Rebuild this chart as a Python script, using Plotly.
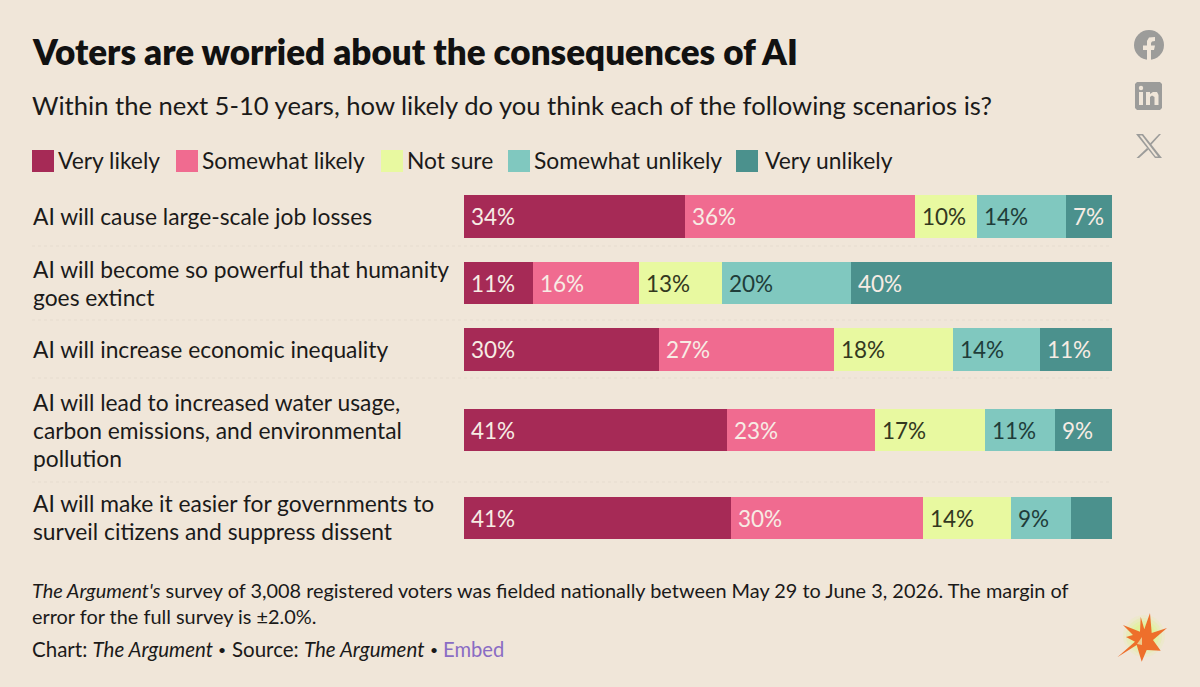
import plotly.graph_objects as go

W, H = 1200, 687
BG = "#f0e6d9"
INK = "#1b1a19"
FONT = "Lato"

categories = [
    "AI will cause large-scale job losses",
    "AI will become so powerful that humanity<br>goes extinct",
    "AI will increase economic inequality",
    "AI will lead to increased water usage,<br>carbon emissions, and environmental<br>pollution",
    "AI will make it easier for governments to<br>surveil citizens and suppress dissent",
]
series_names = ["Very likely", "Somewhat likely", "Not sure", "Somewhat unlikely", "Very unlikely"]
very_likely = [34.1, 10.6, 30.1, 40.6, 41.2]
somewhat_likely = [35.5, 16.4, 27.0, 22.8, 29.6]
not_sure = [9.6, 12.8, 18.4, 17.0, 13.6]
somewhat_unlikely = [13.7, 19.9, 13.4, 10.8, 9.3]
very_unlikely = [7.1, 40.3, 11.1, 8.8, 6.3]
label_very_likely = ["34%", "11%", "30%", "41%", "41%"]
label_somewhat_likely = ["36%", "16%", "27%", "23%", "30%"]
label_not_sure = ["10%", "13%", "18%", "17%", "14%"]
label_somewhat_unlikely = ["14%", "20%", "14%", "11%", "9%"]
label_very_unlikely = ["7%", "40%", "11%", "9%", ""]

all_values = [very_likely, somewhat_likely, not_sure, somewhat_unlikely, very_unlikely]
all_labels = [label_very_likely, label_somewhat_likely, label_not_sure, label_somewhat_unlikely, label_very_unlikely]
colors = ["#a62a56", "#f06b90", "#e8f9a0", "#80c8bf", "#4b918d"]
text_colors = ["#f7ece4", "#f7ece4", "#33381f", "#1f3d3a", "#f7ece4"]

row_y = [216.5, 283, 349.5, 430, 518]   # pixel layout of the rows
bar_h = 42.5

def px(x): return x / W
def py(y): return 1 - y / H

fig = go.Figure()
for name, vals, c in zip(series_names, all_values, colors):
    fig.add_trace(go.Bar(
        name=name, orientation="h", x=vals, y=row_y, width=bar_h,
        marker=dict(color=c, line=dict(width=0)), showlegend=False,
    ))

ann = []
def text(x, y, s, size=22, color=INK, anchor="left", weight=None):
    f = dict(family=FONT, size=size, color=color)
    if weight:
        f["weight"] = weight
    ann.append(dict(xref="paper", yref="paper", x=px(x), y=py(y), text=s, showarrow=False,
                    xanchor=anchor, yanchor="middle", align="left", font=f))

# value labels sit at the start of each stacked segment
starts = [0.0] * len(row_y)
for vals, labs, tc in zip(all_values, all_labels, text_colors):
    for i, (v, lab) in enumerate(zip(vals, labs)):
        if lab:
            ann.append(dict(xref="x", yref="y", x=starts[i], y=row_y[i], text=lab, showarrow=False,
                            xanchor="left", yanchor="middle", xshift=5, yshift=0,
                            font=dict(family=FONT, size=22.5, color=tc)))
        starts[i] += v

text(29.5, 51, "Voters are worried about the consequences of AI", size=35, color="#111111", weight=800)
text(30, 105, "Within the next 5-10 years, how likely do you think each of the following scenarios is?", size=25.6)

shapes = []
legend_x = [32, 176, 381, 508, 736]
legend_text_x = [56, 200, 405, 532, 763]
for lx, tx, name, c in zip(legend_x, legend_text_x, series_names, colors):
    shapes.append(dict(type="rect", xref="paper", yref="paper", x0=px(lx), x1=px(lx + 22),
                       y0=py(150), y1=py(172), fillcolor=c, line=dict(width=0)))
    text(tx, 160, name, size=22.8)

LINE = 28
label_y = [216.5, 283, 349, 429.5, 517]
for cat, ly in zip(categories, label_y):
    lines = cat.split("<br>")
    for k, ln in enumerate(lines):
        text(31, ly + (k - (len(lines) - 1) / 2) * LINE, ln, size=22.8)

for sy in [246, 320, 378, 482]:
    shapes.append(dict(type="line", xref="paper", yref="paper", x0=px(32), x1=px(1112), y0=py(sy), y1=py(sy),
                       line=dict(color="#e6dccf", width=1, dash="dot")))

text(30, 590, "<i>The Argument's</i> survey of 3,008 registered voters was fielded nationally between May 29 to June 3, 2026. The margin of", size=19.9)
text(30, 616, "error for the full survey is ±2.0%.", size=19.9)
text(30, 649, "Chart: <i>The Argument</i>", size=20.5)
text(216, 649, "•", size=14)
text(230, 649, "Source: <i>The Argument</i>", size=20.5)
text(428, 649, "•", size=14)
text(441, 649, "Embed", size=20.2, color="#8a6cc4")

# icons
GREY = "#9c9c9a"
def poly(points, fill, close=True):
    d = "M" + "L".join(f"{px(x):.5f},{py(y):.5f}" for x, y in points) + ("Z" if close else "")
    shapes.append(dict(type="path", xref="paper", yref="paper", path=d, fillcolor=fill, line=dict(width=0)))
def circle(cx, cy, r, fill, op=1):
    shapes.append(dict(type="circle", xref="paper", yref="paper", x0=px(cx - r), x1=px(cx + r),
                       y0=py(cy - r), y1=py(cy + r), fillcolor=fill, opacity=op, line=dict(width=0)))

circle(1149, 45, 15, GREY)
poly([(1147, 60), (1147, 50), (1143, 50), (1143, 45.5), (1147, 45.5), (1147, 41), (1149, 37.5), (1155, 37), (1155, 41),
      (1152, 41.5), (1151, 43), (1151, 45.5), (1155, 45.5), (1154, 50), (1151, 50), (1151, 60)], BG)
poly([(1135, 84), (1137, 82), (1160, 82), (1162, 84), (1162, 108), (1160, 110), (1137, 110), (1135, 108)], GREY)
poly([(1139, 92), (1143, 92), (1143, 105), (1139, 105)], BG)
circle(1141, 88, 2.2, BG)
poly([(1146, 92), (1150, 92), (1150, 94), (1153, 92), (1157, 92), (1158.5, 95), (1158.5, 105), (1154.5, 105),
      (1154.5, 97), (1152, 95.5), (1150, 97), (1150, 105), (1146, 105)], BG)
poly([(1136, 134), (1143, 134), (1162, 158), (1155, 158)], GREY)
poly([(1159, 134), (1161, 134), (1151, 145), (1150, 143.5)], GREY)
poly([(1147, 148), (1148.5, 149.5), (1139, 158), (1136.5, 158)], GREY)
poly([(1139.5, 135.5), (1142, 135.5), (1158, 156.5), (1155.5, 156.5)], BG)

for r, op in [(21, .15), (18, .25), (15, .35), (12, .5)]:
    circle(1144, 636, r, "#dcf58c", op)
poly([(1117.3, 657.3), (1135, 641.7), (1126, 637), (1133, 635), (1123, 625), (1140, 631.7), (1140.7, 616.7),
      (1144.3, 629.3), (1150, 613), (1151.7, 633), (1167, 628), (1153, 640), (1160.7, 650.7), (1146.7, 650),
      (1141.7, 661.7), (1136.7, 645)], "#ee6f2b")
poly([(1137, 644), (1142, 637), (1142, 645)], "#eccb8e")

fig.update_layout(
    width=W, height=H, barmode="stack", paper_bgcolor=BG, plot_bgcolor=BG,
    margin=dict(l=0, r=0, t=0, b=0, pad=0), bargap=0, showlegend=False,
    xaxis=dict(domain=[px(464), px(1112)], range=[0, 100], visible=False, fixedrange=True),
    yaxis=dict(domain=[0, 1], range=[H, 0], visible=False, fixedrange=True),
    annotations=ann, shapes=shapes,
)
fig.write_html("out.html", config=dict(displayModeBar=False), post_script="document.body.style.margin='0';")
